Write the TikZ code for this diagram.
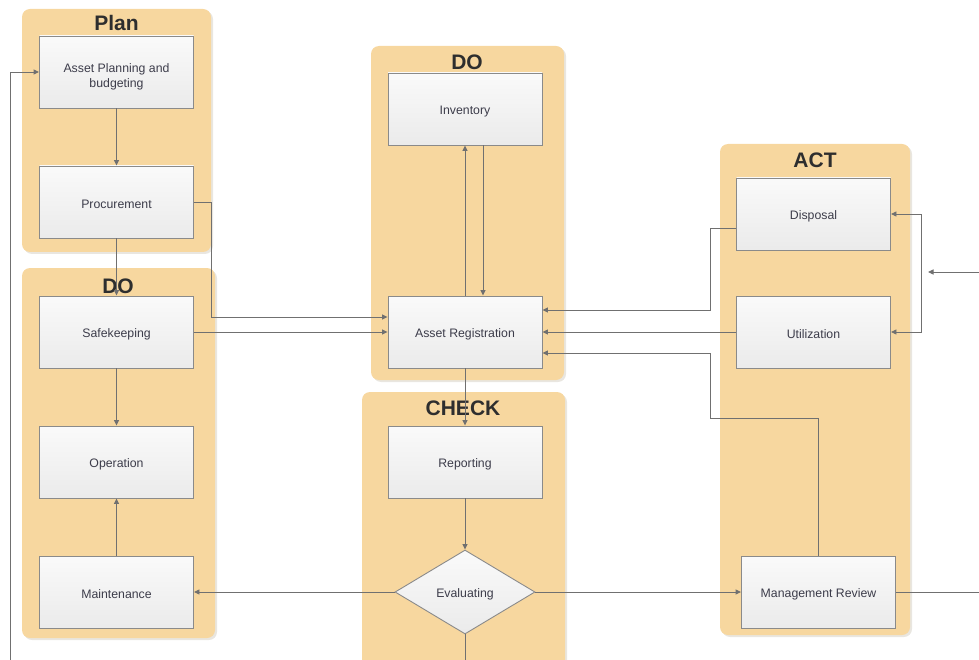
\documentclass[tikz,border=0pt]{standalone}
\usepackage{fontspec}
\setmainfont{Liberation Sans}
\usetikzlibrary{arrows.meta,shapes.geometric,shadows}
\definecolor{panelfill}{HTML}{F7D79F}
\definecolor{panelshadow}{HTML}{E9E6E0}
\definecolor{boxline}{HTML}{8A8A8A}
\definecolor{conncol}{HTML}{707070}
\definecolor{txtcol}{HTML}{3C3C4A}
\definecolor{titlecol}{HTML}{2E2E2E}
\tikzset{
  panel/.style={fill=panelfill, draw=none, rounded corners=8pt,
    drop shadow={shadow xshift=2pt, shadow yshift=-2pt, fill=panelshadow, opacity=1}},
  ptitle/.style={anchor=base, text=titlecol, font=\fontsize{21}{24}\selectfont\bfseries, inner sep=0pt},
  lift/.style={execute at begin node={\rule{0pt}{#1}}},
  lift/.default=13pt,
  box/.style={draw=boxline, line width=0.9pt, top color=white!98!black, bottom color=black!8,
    minimum width=154pt, minimum height=72pt, align=center, text=txtcol,
    font=\fontsize{12.3}{15}\selectfont, inner sep=2pt, lift},
  dia/.style={diamond, aspect=1.67, draw=boxline, line width=0.9pt, top color=white!98!black, bottom color=black!8,
    minimum width=140pt, minimum height=84pt, align=center, text=txtcol,
    font=\fontsize{12.3}{15}\selectfont, inner sep=1pt, lift},
  conn/.style={draw=conncol, line width=0.9pt, -{Triangle[length=5.5pt,width=5pt]}},
  plain/.style={draw=conncol, line width=0.9pt}
}
\begin{document}
\begin{tikzpicture}[x=1pt,y=-1pt]
\useasboundingbox (0,0) rectangle (979,660);
% panels
\path[panel] (22,9) rectangle (211,252);
\path[panel] (22,268) rectangle (215,638);
\path[panel] (371,46) rectangle (564,380);
\path[panel] (362,392) rectangle (565,690);
\path[panel] (720,144) rectangle (910,635);
% titles
\node[ptitle] (tplan) at (116.5,31) {Plan};
\node[ptitle] (tdo1) at (118,293) {DO};
\node[ptitle] (tdo2) at (467,70) {DO};
\node[ptitle] (tcheck) at (463,415) {CHECK};
\node[ptitle] (tact) at (815,168) {ACT};
% boxes
\node[box, lift=0pt] (ap) at (116.5,72) {\rule{0pt}{18pt}Asset Planning and\\budgeting};
\node[box] (proc) at (116.5,202) {Procurement};
\node[box] (safe) at (116.5,332) {Safekeeping};
\node[box] (oper) at (116.5,462) {Operation};
\node[box] (maint) at (116.5,592) {Maintenance};
\node[box] (inv) at (465,109) {Inventory};
\node[box] (ar) at (465,332) {Asset Registration};
\node[box] (rep) at (465,462) {Reporting};
\node[dia] (eval) at (465,592) {Evaluating};
\node[box] (disp) at (813.5,214) {Disposal};
\node[box] (util) at (813.5,332) {Utilization};
\node[box] (mr) at (818.5,592) {Management Review};
% free coordinates
\coordinate (lbot) at (10,660);
\coordinate (evout) at (465,660);
\coordinate (mrout) at (979,592);
\coordinate (rin) at (979,272);
\coordinate (rend) at (928,272);
\coordinate (rj) at (921,272);
% connectors
\draw[conn] (ap.south) -- (proc.north);
\draw[conn] (proc.south) -- (safe.north);
\draw[conn] (proc.east) -| (211,317) -- ([yshift=15pt]ar.west);
\draw[conn] (safe.east) -- (ar.west);
\draw[conn] (safe.south) -- (oper.north);
\draw[conn] (maint.north) -- (oper.south);
\draw[conn] (ar.north) -- (inv.south);
\draw[conn] ([xshift=18pt]inv.south) -- ([xshift=18pt]ar.north);
\draw[conn] (ar.south) -- (rep.north);
\draw[conn] (rep.south) -- (eval.north);
\draw[conn] (eval.west) -- (maint.east);
\draw[conn] (eval.east) -- (mr.west);
\draw[plain] (eval.south) -- (evout);
\draw[conn] ([yshift=-14pt]disp.west) -| (710,310) -- ([yshift=22pt]ar.east);
\draw[conn] (util.west) -- (ar.east);
\draw[conn] (mr.north) |- (710,418) |- ([yshift=-21pt]ar.east);
\draw[conn] (rj) |- (disp.east);
\draw[conn] (rj) |- (util.east);
\draw[conn] (rin) -- (rend);
\draw[plain] (mr.east) -- (mrout);
\draw[conn] (lbot) |- (ap.west);
\end{tikzpicture}
\end{document}
